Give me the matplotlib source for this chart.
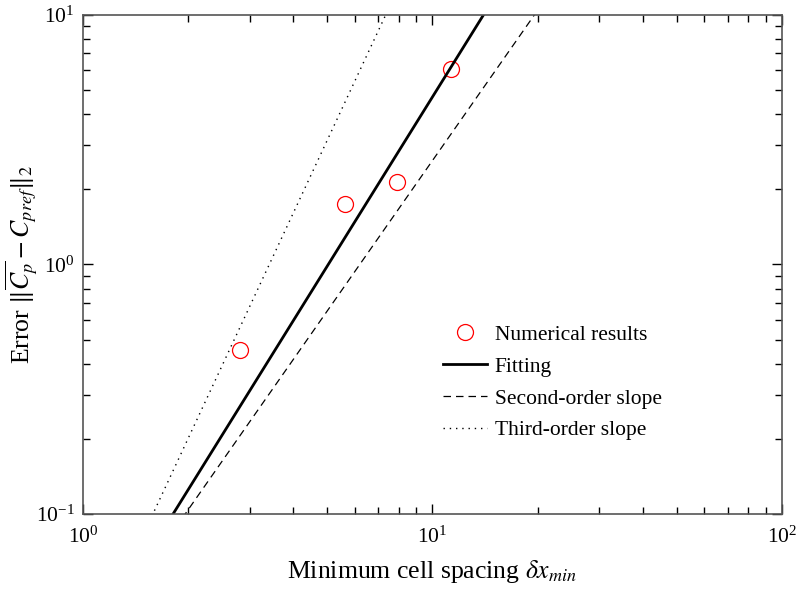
import numpy as np
import matplotlib
matplotlib.use("Agg")
import matplotlib.pyplot as plt
from matplotlib.ticker import LogLocator, NullFormatter

plt.rcParams['font.family'] = ['Liberation Serif', 'DejaVu Serif']
plt.rcParams['mathtext.fontset'] = 'stix'

# numerical results
dx_min = [2.81, 5.62, 7.91, 11.3]
error = [0.456, 1.74, 2.13, 6.07]

# reference lines: y = coef * x ** order
fit_order, fit_coef = 2.25, 0.1 / 1.81 ** 2.25
second_order, second_coef = 2.0, 0.1 / 1.96 ** 2
third_order, third_coef = 3.0, 0.1 / 1.585 ** 3

fig = plt.figure(figsize=(7.97, 5.89), dpi=100)
ax = fig.add_axes([0.104, 0.127, 0.877, 0.848])

xs = np.logspace(0, 2, 400)
ax.plot(dx_min, error, 'o', mfc='none', mec='red', ms=11.5, mew=0.9,
        label='Numerical results')
ax.plot(xs, fit_coef * xs ** fit_order, 'k-', lw=2, label='Fitting')
ax.plot(xs, second_coef * xs ** second_order, 'k--', lw=0.9,
        dashes=(6, 4), label='Second-order slope')
ax.plot(xs, third_coef * xs ** third_order, 'k:', lw=1.0,
        dashes=(1, 3.5), label='Third-order slope')

ax.set_xscale('log')
ax.set_yscale('log')
ax.set_xlim(1, 100)
ax.set_ylim(0.1, 10)

ax.xaxis.set_minor_locator(LogLocator(base=10, subs=np.arange(2, 10)))
ax.yaxis.set_minor_locator(LogLocator(base=10, subs=np.arange(2, 10)))
ax.xaxis.set_minor_formatter(NullFormatter())
ax.yaxis.set_minor_formatter(NullFormatter())
ax.tick_params(which='both', direction='in', top=True, right=True,
               labelsize=15.5)
ax.tick_params(which='major', length=7.5, width=1.0)
ax.tick_params(which='minor', length=5, width=1.0)
ax.tick_params(axis='x', which='major', pad=9)
ax.tick_params(axis='y', which='major', pad=6)
for s in ax.spines.values():
    s.set_color('#555555')
    s.set_linewidth(1.2)

ax.set_xlabel(r'Minimum cell spacing $\delta x_{min}$', fontsize=18.5)
ax.set_ylabel(r'Error $\|\overline{C_p} - C_{pref}\|_2$', fontsize=18.5)
ax.xaxis.set_label_coords(0.5, -0.088)
ax.yaxis.set_label_coords(-0.062, 0.5)

ax.legend(loc='center left', bbox_to_anchor=(0.487, 0.2635), frameon=False,
          fontsize=15.5, handlelength=2.05, handletextpad=0.37,
          labelspacing=0.55)

fig.savefig('out.png', dpi=100)
